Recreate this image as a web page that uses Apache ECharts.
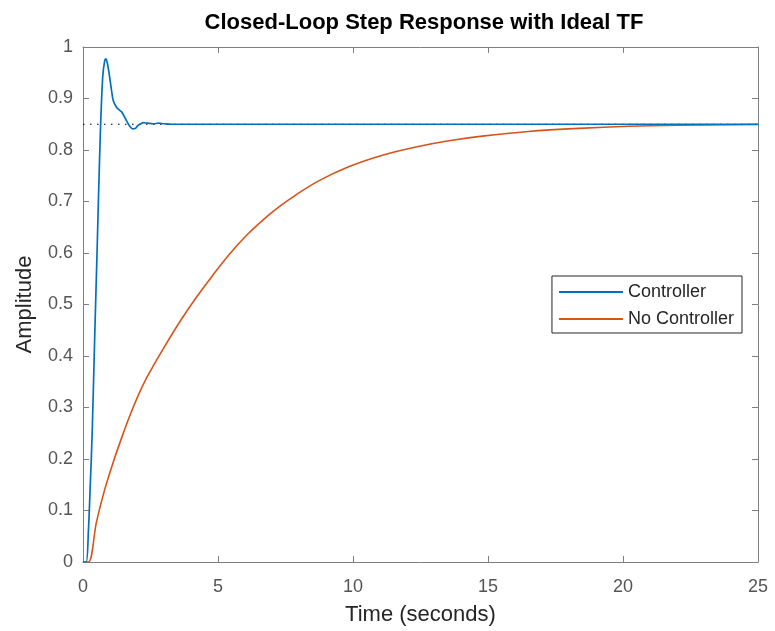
<!DOCTYPE html>
<html>
<head>
<meta charset="utf-8">
<title>Closed-Loop Step Response with Ideal TF</title>
<script src="https://cdn.jsdelivr.net/npm/echarts@6/dist/echarts.min.js"></script>
<style>
  html, body { margin: 0; padding: 0; background: #fff; }
  #chart { width: 775px; height: 631px; }
</style>
</head>
<body>
<div id="chart"></div>
<script>
// Step response with controller (time in seconds, amplitude)
const ctrlTime = [0, 0.12, 0.2, 0.27, 0.34, 0.44, 0.52, 0.58, 0.65, 0.73, 0.8, 0.85, 0.9, 0.97, 1.05, 1.12, 1.24, 1.34, 1.43, 1.52, 1.61, 1.72, 1.84, 1.94, 2.04, 2.14, 2.23, 2.4, 2.6, 2.8, 3.0, 3.3, 4, 6, 10, 15, 20, 25];
const ctrlAmp  = [0, 0.0, 0.06, 0.15, 0.25, 0.45, 0.6, 0.72, 0.845, 0.942, 0.972, 0.977, 0.969, 0.948, 0.918, 0.896, 0.883, 0.878, 0.874, 0.866, 0.857, 0.847, 0.841, 0.842, 0.848, 0.851, 0.853, 0.852, 0.851, 0.852, 0.851, 0.85, 0.85, 0.85, 0.85, 0.85, 0.85, 0.85];

// Step response without controller
const openTime = [0, 0.2, 0.5, 0.8, 1.12, 1.43, 1.74, 2.05, 2.35, 2.66, 2.97, 3.58, 4.2, 4.81, 5.43, 6.05, 6.66, 7.27, 7.89, 8.76, 9.86, 11.09, 12.33, 13.55, 14.79, 16.5, 18.36, 20.2, 22.05, 25];
const openAmp  = [0, 0.0, 0.078, 0.14, 0.194, 0.241, 0.285, 0.324, 0.357, 0.386, 0.414, 0.466, 0.514, 0.557, 0.598, 0.634, 0.664, 0.69, 0.713, 0.741, 0.768, 0.79, 0.806, 0.818, 0.827, 0.836, 0.842, 0.846, 0.848, 0.8495];

// Steady-state reference level
const steadyLevel = 0.85;
const timeRange = [0, 25];

const xTicks = [0, 5, 10, 15, 20, 25];
const yTicks = [0, 0.1, 0.2, 0.3, 0.4, 0.5, 0.6, 0.7, 0.8, 0.9, 1];

const pairs = (xs, ys) => xs.map((x, i) => [x, ys[i]]);

const FONT = '"Liberation Sans", Arial, Helvetica, sans-serif';
const AXIS_COLOR = '#7f7f7f';
const LABEL_COLOR = '#555555';

const chart = echarts.init(document.getElementById('chart'), null, { renderer: 'canvas' });

const baseX = {
  type: 'value', min: 0, max: 25, interval: 5,
  axisLine: { show: true, onZero: false, lineStyle: { color: AXIS_COLOR, width: 1 } },
  axisTick: { show: true, inside: true, length: 6, lineStyle: { color: AXIS_COLOR } },
  splitLine: { show: false }
};
const baseY = {
  type: 'value', min: 0, max: 1, interval: 0.1,
  axisLine: { show: true, onZero: false, lineStyle: { color: AXIS_COLOR, width: 1 } },
  axisTick: { show: true, inside: true, length: 6, lineStyle: { color: AXIS_COLOR } },
  splitLine: { show: false }
};

chart.setOption({
  backgroundColor: '#ffffff',
  animation: false,
  title: {
    text: 'Closed-Loop Step Response with Ideal TF',
    left: 419, top: 7, textAlign: 'center',
    textStyle: { fontFamily: FONT, fontSize: 22, fontWeight: 'bold', color: '#000' }
  },
  grid: { left: 83, right: 17, top: 47, bottom: 68, containLabel: false },
  legend: {
    right: 33, top: 276,
    orient: 'vertical',
    data: ['Controller', 'No Controller'],
    icon: 'rect',
    itemWidth: 64, itemHeight: 2, itemGap: 9,
    padding: [7, 8, 5, 7],
    borderColor: '#262626', borderWidth: 1, backgroundColor: '#fff',
    textStyle: { fontFamily: FONT, fontSize: 18, color: '#262626' }
  },
  xAxis: [
    Object.assign({}, baseX, {
      position: 'bottom',
      name: 'Time (seconds)', nameLocation: 'middle', nameGap: 42,
      nameTextStyle: { fontFamily: FONT, fontSize: 22, color: '#262626' },
      axisLabel: { fontFamily: FONT, fontSize: 18, color: LABEL_COLOR, margin: 16,
        formatter: v => xTicks.includes(v) ? String(v) : '' }
    }),
    Object.assign({}, baseX, { position: 'top', axisLabel: { show: false } })
  ],
  yAxis: [
    Object.assign({}, baseY, {
      position: 'left',
      name: 'Amplitude', nameLocation: 'middle', nameGap: 47,
      nameTextStyle: { fontFamily: FONT, fontSize: 22, color: '#262626' },
      axisLabel: { fontFamily: FONT, fontSize: 18, color: LABEL_COLOR, margin: 10,
        formatter: v => {
          const t = yTicks.find(k => Math.abs(k - v) < 1e-9);
          return t === undefined ? '' : String(t);
        } }
    }),
    Object.assign({}, baseY, { position: 'right', axisLabel: { show: false } })
  ],
  series: [
    {
      name: 'Steady State',
      type: 'line',
      data: [[timeRange[0], steadyLevel], [timeRange[1], steadyLevel]],
      showSymbol: false, silent: true, z: 1,
      lineStyle: { color: '#000', width: 1.2, type: [1.5, 5.5] }
    },
    {
      name: 'Controller',
      type: 'line',
      data: pairs(ctrlTime, ctrlAmp),
      smooth: 0.3, showSymbol: false, z: 3,
      color: '#0072BD',
      lineStyle: { color: '#0072BD', width: 1.7 }
    },
    {
      name: 'No Controller',
      type: 'line',
      data: pairs(openTime, openAmp),
      smooth: 0.35, showSymbol: false, z: 2,
      color: '#D95319',
      lineStyle: { color: '#D95319', width: 1.6 }
    }
  ]
});
</script>
</body>
</html>
